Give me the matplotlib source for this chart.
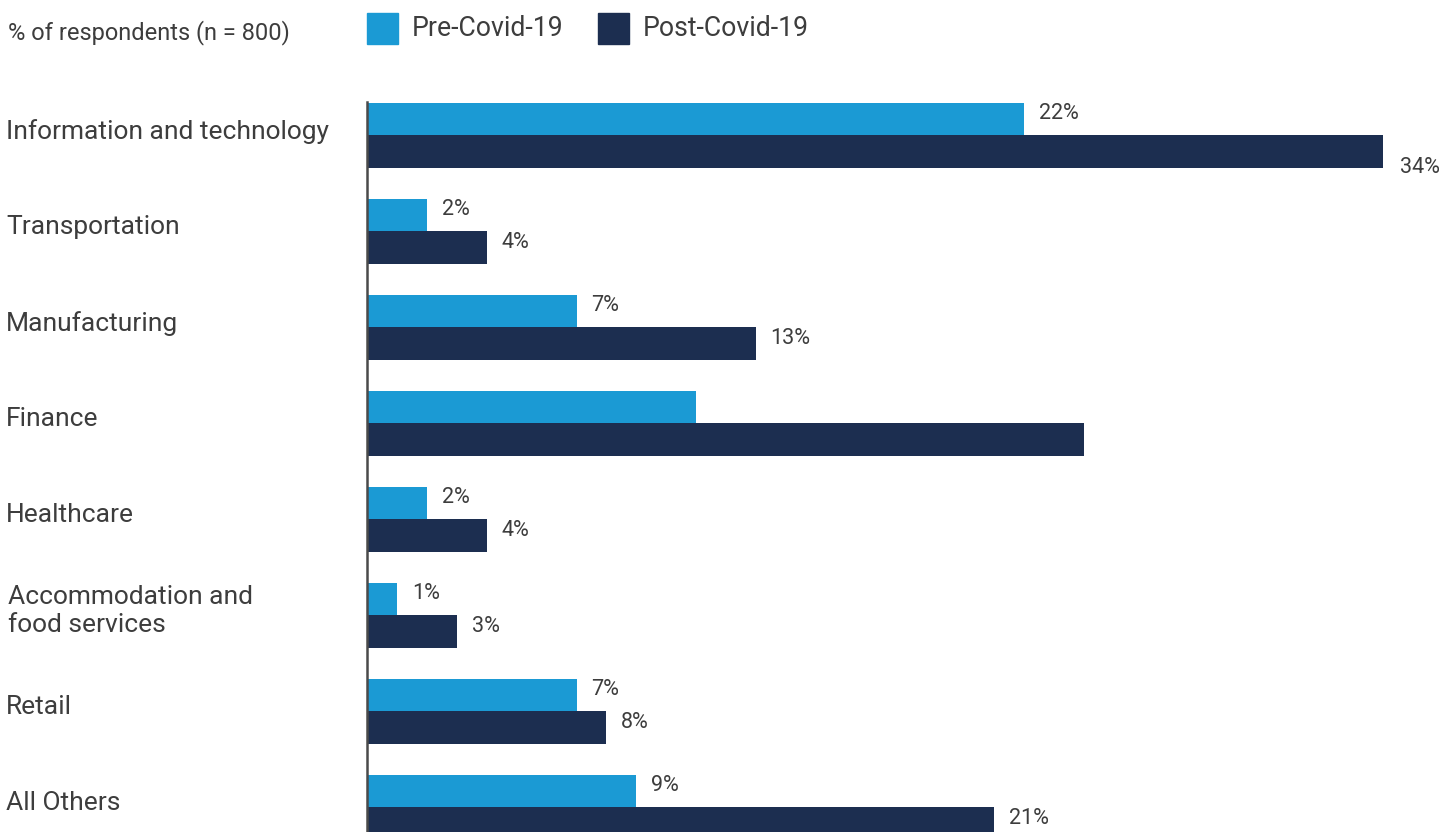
import numpy as np
import matplotlib.pyplot as plt
import matplotlib.transforms as mtransforms
from matplotlib.patches import Rectangle

plt.rcParams['font.family'] = ['Roboto', 'DejaVu Sans']

categories = ['Information and technology', 'Transportation', 'Manufacturing',
              'Finance', 'Healthcare', 'Accommodation and\nfood services',
              'Retail', 'All Others']
pre_covid = [22, 2, 7, 11, 2, 1, 7, 9]
post_covid = [34, 4, 13, 24, 4, 3, 8, 21]
pre_labels = ['22%', '2%', '7%', None, '2%', '1%', '7%', '9%']
post_labels = ['34%', '4%', '13%', None, '4%', '3%', '8%', '21%']
series_names = ['Pre-Covid-19', 'Post-Covid-19']

pre_color = '#1b9ad4'
post_color = '#1c2e50'
text_color = '#3d3d3d'

fig = plt.figure(figsize=(14.53, 8.32), dpi=100)
ax = fig.add_axes([367 / 1453, 0, 1 - 367 / 1453, (832 - 102) / 832])

y = np.arange(len(categories))
h = 0.339
ax.barh(y - h / 2, pre_covid, height=h, color=pre_color)
ax.barh(y + h / 2, post_covid, height=h, color=post_color)

ax.set_xlim(-0.02, 36.36)
ax.set_ylim(7.259, -0.345)
for s in ['top', 'right', 'bottom']:
    ax.spines[s].set_visible(False)
ax.spines['left'].set_color('#4a4a4a')
ax.spines['left'].set_linewidth(1.8)
ax.set_xticks([])
ax.set_yticks([])

vfs = 15.5
up = mtransforms.offset_copy(ax.transData, fig=fig, x=0, y=5, units='dots')
for i in y:
    if pre_labels[i]:
        ax.text(pre_covid[i] + 0.5, i - h / 2, pre_labels[i], transform=up,
                va='center', ha='left', fontsize=vfs, color=text_color)
    if post_labels[i]:
        if post_covid[i] == max(post_covid):
            ax.text(post_covid[i] + 0.6, i + h, post_labels[i],
                    va='center', ha='left', fontsize=vfs, color=text_color)
        else:
            ax.text(post_covid[i] + 0.5, i + h / 2, post_labels[i],
                    transform=up, va='center', ha='left', fontsize=vfs,
                    color=text_color)

lab_tr = mtransforms.blended_transform_factory(fig.transFigure, ax.transData)
lab_tr = lab_tr + mtransforms.ScaledTranslation(0, 4 / 100, fig.dpi_scale_trans)
for i, c in enumerate(categories):
    ax.text(6 / 1453 if '\n' not in c else 8 / 1453, i, c, transform=lab_tr,
            va='center', ha='left', fontsize=19, color=text_color,
            linespacing=1.22)

# header
fig.text(8 / 1453, 1 - 33 / 832, '% of respondents (n = 800)', va='center',
         ha='left', fontsize=17, color=text_color)
for x0, name, col in [(367, series_names[0], pre_color),
                      (598, series_names[1], post_color)]:
    fig.patches.append(Rectangle((x0 / 1453, 1 - 44 / 832), 31 / 1453, 31 / 832,
                                 transform=fig.transFigure, color=col))
    fig.text((x0 + 45) / 1453, 1 - 28 / 832, name, va='center', ha='left',
             fontsize=19.2, color=text_color)

fig.savefig('out.png', dpi=100)
